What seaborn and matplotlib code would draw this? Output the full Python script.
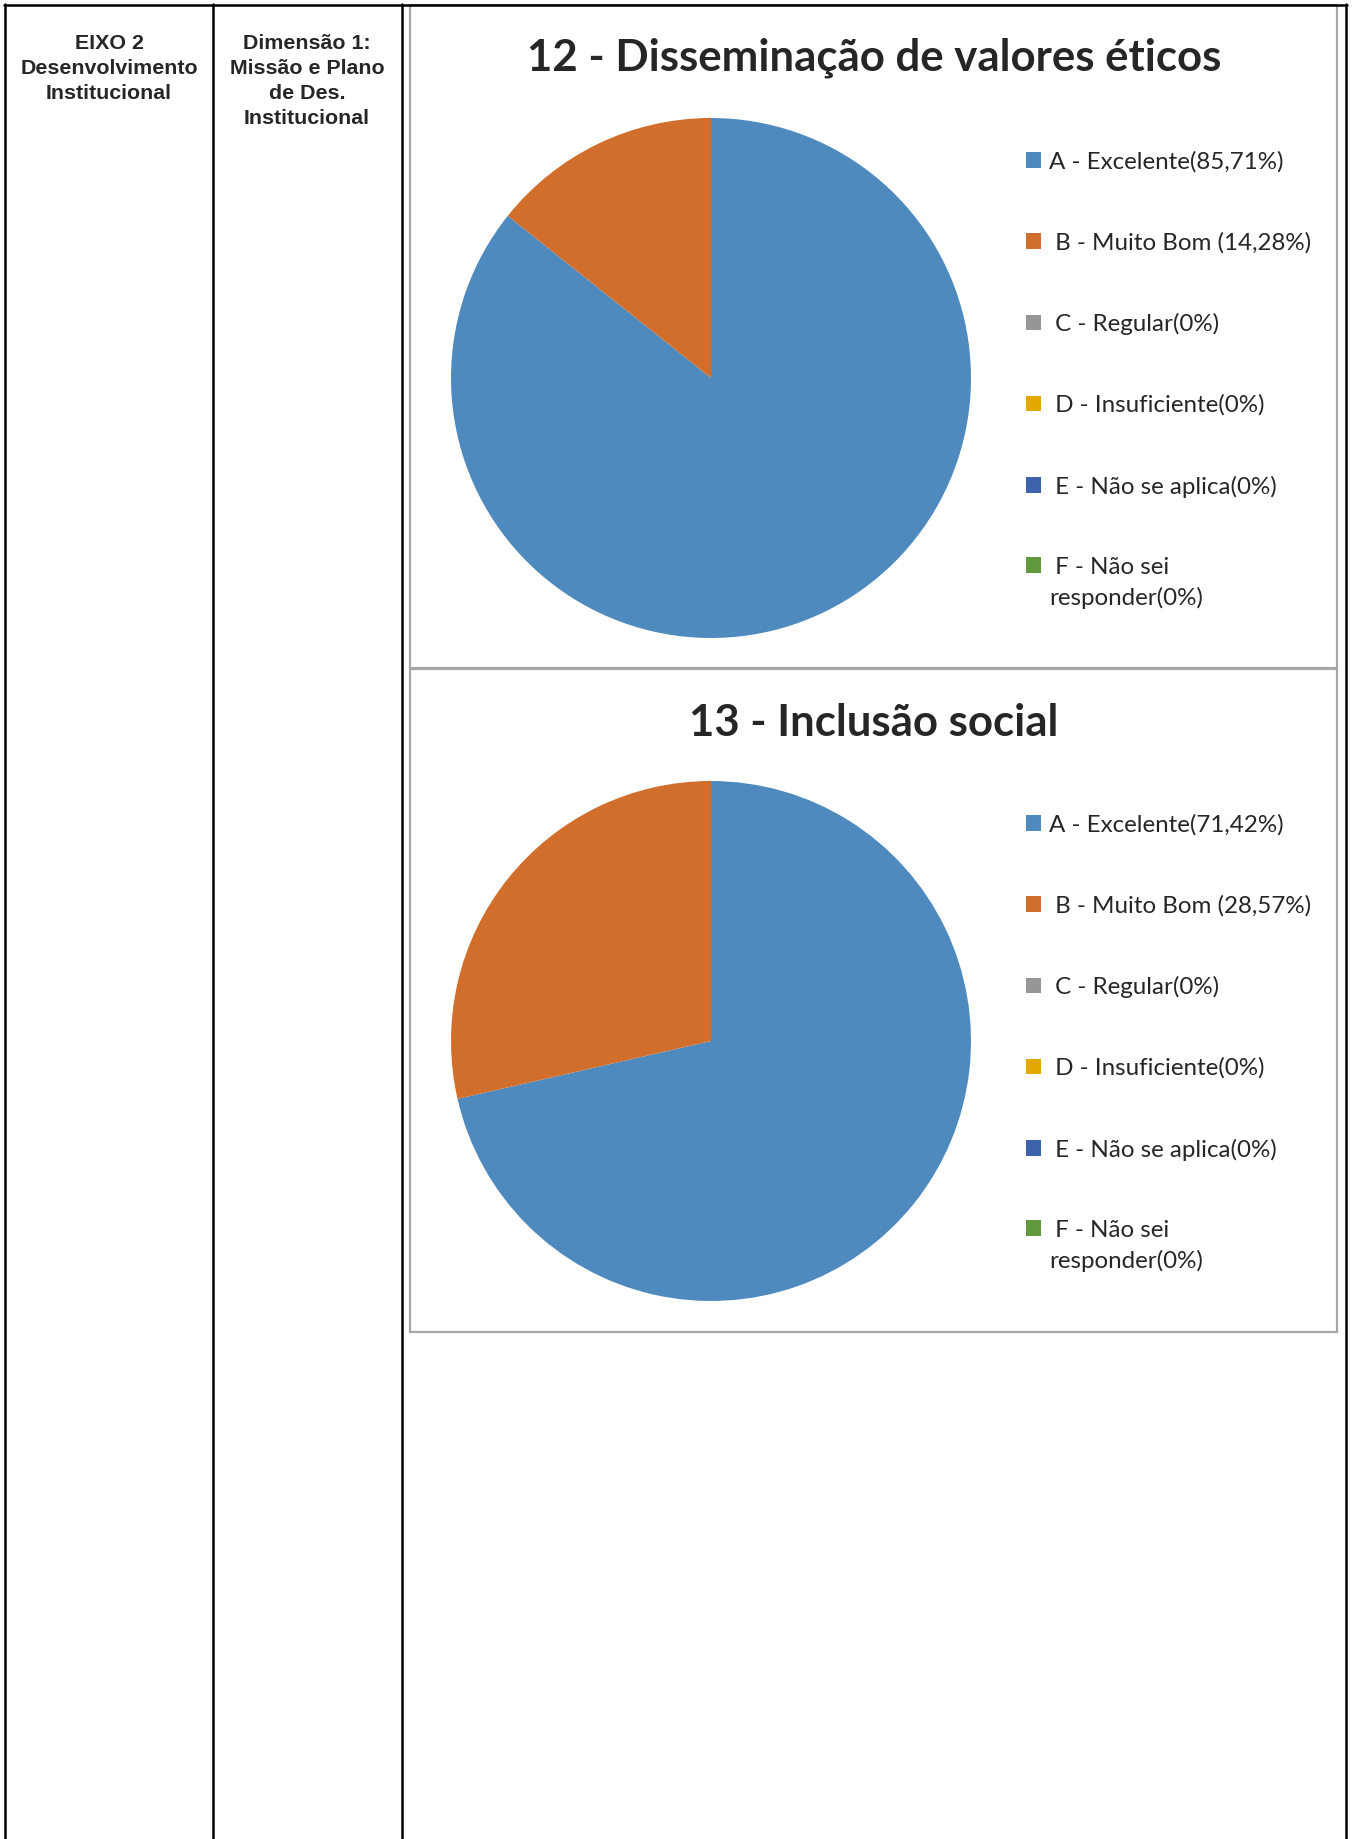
import matplotlib
matplotlib.use("Agg")
import matplotlib.pyplot as plt
from matplotlib.patches import Rectangle, Patch
from matplotlib.lines import Line2D
import seaborn as sns

# --- data ---
categorias = ["A - Excelente(85,71%)", " B - Muito Bom (14,28%)", " C - Regular(0%)",
              " D - Insuficiente(0%)", " E - Não se aplica(0%)", " F - Não sei\nresponder(0%)"]
categorias_13 = ["A - Excelente(71,42%)", " B - Muito Bom (28,57%)", " C - Regular(0%)",
                 " D - Insuficiente(0%)", " E - Não se aplica(0%)", " F - Não sei\nresponder(0%)"]
valores_12 = [85.71, 14.28, 0, 0, 0, 0]
valores_13 = [71.42, 28.57, 0, 0, 0, 0]
titulos = ["12 - Disseminação de valores éticos", "13 - Inclusão social"]
cores = ["#4F8ABE", "#D26E2C", "#969696", "#E3A900", "#3E63AC", "#62993E"]

sns.set_theme(style="white")
plt.rcParams["font.family"] = ["Lato", "DejaVu Sans"]

W, H = 1352, 1839
fig = plt.figure(figsize=(W / 100, H / 100), dpi=100)

# background axes for the table grid (pixel coords, y down)
bg = fig.add_axes([0, 0, 1, 1])
bg.set_xlim(0, W)
bg.set_ylim(H, 0)
bg.axis("off")

# chart boxes
for top, bot in [(5, 668), (669, 1332)]:
    bg.add_patch(Rectangle((410, top), 927, bot - top, fill=False,
                           edgecolor="#A6A6A6", linewidth=1.6))

# table lines
for x in [5, 213, 402, 1346]:
    bg.add_line(Line2D([x, x], [4, H], color="black", linewidth=1.8))
bg.add_line(Line2D([4, 1347], [5, 5], color="black", linewidth=1.8))

# header cells
bg.text(109, 34, "EIXO 2\nDesenvolvimento\nInstitucional", ha="center", va="top",
        fontsize=15.4, fontweight="bold", family="Liberation Sans", linespacing=1.41)
bg.text(307, 34, "Dimensão 1:\nMissão e Plano\nde Des.\nInstitucional", ha="center", va="top",
        fontsize=15.4, fontweight="bold", family="Liberation Sans", linespacing=1.41)

FS_LEG = 17.4
LS_LEG = 1.5


def desenha_pizza(valores, rotulos, titulo, cy, ty):
    r = 260
    cx = 711
    ax = fig.add_axes([(cx - r) / W, 1 - (cy + r) / H, 2 * r / W, 2 * r / H])
    ax.pie(valores, colors=cores, startangle=90, counterclock=False, radius=1,
           wedgeprops=dict(linewidth=0))
    ax.set_xlim(-1, 1)
    ax.set_ylim(-1, 1)
    ax.set_aspect("equal")
    ax.axis("off")
    fig.text(874 / W, 1 - ty / H, titulo, ha="center", va="center",
             fontsize=31.5, fontweight="bold")
    handles = [Patch(facecolor=c, edgecolor="none") for c in cores]
    leg = ax.legend(handles, rotulos, loc="upper left",
                    bbox_to_anchor=(1026 / W, 1 - (cy - 227) / H), bbox_transform=fig.transFigure,
                    frameon=False, fontsize=FS_LEG, handlelength=0.6, handleheight=0.6,
                    handletextpad=0.35, labelspacing=2.46, borderpad=0, borderaxespad=0)
    for t in leg.get_texts():
        t.set_linespacing(LS_LEG)
    # two-line entry: put the marker next to the first line
    ult = leg.legend_handles[-1]
    ult.set_y(ult.get_y() + 0.5 * LS_LEG * FS_LEG)


desenha_pizza(valores_12, categorias, titulos[0], 378, 58)
desenha_pizza(valores_13, categorias_13, titulos[1], 1041, 723)

fig.savefig("out.png", dpi=100)
